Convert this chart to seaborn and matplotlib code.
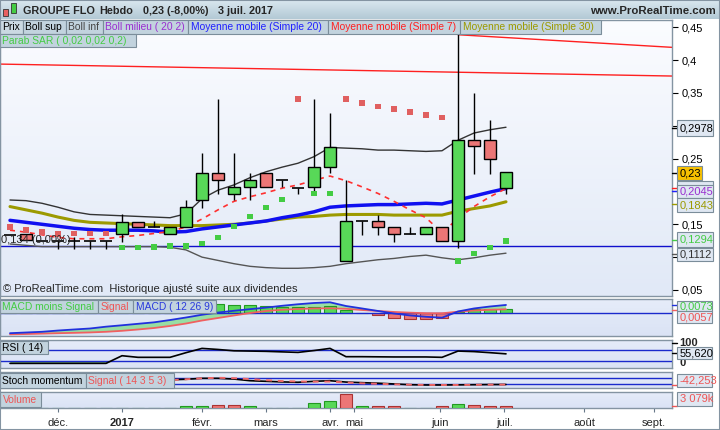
import numpy as np
import seaborn as sns
import matplotlib
matplotlib.use('Agg')
from matplotlib import pyplot as plt
from matplotlib.patches import Rectangle
from matplotlib.lines import Line2D
from matplotlib.colors import LinearSegmentedColormap

# ---- données hebdomadaires (GROUPE FLO) ----
semaines = list(range(32))
ouverture = [0.134, 0.1348, 0.125, 0.125, 0.125, 0.125, 0.125, 0.1348, 0.154, 0.1465, 0.1348, 0.1464,
             0.1866, 0.2277, 0.1957, 0.2064, 0.2277, 0.217, 0.2058, 0.2064, 0.2368, 0.0937, 0.1546, 0.1546,
             0.1455, 0.1348, 0.1348, 0.1455, 0.124, 0.278, 0.278, 0.2058]
haut = [0.134, 0.1348, 0.125, 0.125, 0.130, 0.125, 0.125, 0.1651, 0.154, 0.155, 0.1455, 0.187,
        0.259, 0.341, 0.259, 0.2277, 0.2277, 0.217, 0.2058, 0.341, 0.3195, 0.217, 0.1546, 0.1637,
        0.1455, 0.146, 0.1455, 0.1455, 0.44, 0.35, 0.3088, 0.23]
bas = [0.134, 0.126, 0.125, 0.112, 0.112, 0.112, 0.112, 0.1235, 0.1455, 0.1465, 0.1348, 0.1464,
       0.1753, 0.1957, 0.1866, 0.1866, 0.2064, 0.2064, 0.1957, 0.200, 0.2277, 0.0937, 0.1342, 0.1342,
       0.1235, 0.1348, 0.1348, 0.124, 0.1135, 0.227, 0.227, 0.1957]
cloture = [0.134, 0.126, 0.125, 0.125, 0.125, 0.125, 0.125, 0.154, 0.1455, 0.1465, 0.1455, 0.176,
           0.2277, 0.217, 0.2064, 0.217, 0.2064, 0.217, 0.2058, 0.2368, 0.2682, 0.1546, 0.1546, 0.1455,
           0.1348, 0.1348, 0.1455, 0.124, 0.278, 0.2688, 0.25, 0.23]

boll_sup = [0.187, 0.186, 0.182, 0.176, 0.169, 0.165, 0.164, 0.163, 0.162, 0.161, 0.160, 0.166,
            0.189, 0.202, 0.210, 0.221, 0.230, 0.237, 0.243, 0.253, 0.267, 0.266, 0.265, 0.263,
            0.263, 0.262, 0.261, 0.262, 0.278, 0.289, 0.294, 0.2978]
boll_inf = [0.120, 0.118, 0.116, 0.116, 0.116, 0.116, 0.116, 0.116, 0.116, 0.116, 0.115, 0.111,
            0.100, 0.095, 0.090, 0.086, 0.084, 0.083, 0.083, 0.084, 0.086, 0.090, 0.093, 0.096,
            0.098, 0.101, 0.103, 0.099, 0.096, 0.099, 0.103, 0.106]
mm20 = [0.156, 0.153, 0.150, 0.147, 0.144, 0.142, 0.141, 0.141, 0.141, 0.140, 0.138, 0.139,
        0.143, 0.146, 0.149, 0.152, 0.155, 0.160, 0.164, 0.169, 0.176, 0.178, 0.179, 0.180,
        0.180, 0.181, 0.182, 0.181, 0.187, 0.193, 0.199, 0.2045]
mm7 = [0.141, 0.138, 0.134, 0.130, 0.128, 0.128, 0.128, 0.131, 0.133, 0.136, 0.139, 0.146,
       0.158, 0.172, 0.185, 0.192, 0.198, 0.205, 0.210, 0.217, 0.2235, 0.2164, 0.207, 0.197,
       0.185, 0.172, 0.160, 0.137, 0.159, 0.177, 0.192, 0.2045]
mm30 = [0.177, 0.172, 0.167, 0.161, 0.156, 0.153, 0.152, 0.151, 0.150, 0.149, 0.148, 0.148,
        0.148, 0.149, 0.150, 0.152, 0.155, 0.158, 0.161, 0.162, 0.164, 0.165, 0.165, 0.165,
        0.164, 0.164, 0.164, 0.164, 0.170, 0.174, 0.178, 0.1843]
sar = [0.1459, 0.1413, 0.1383, 0.1353, 0.1357, 0.1357, 0.1357, 0.1144, 0.1144, 0.1155, 0.117, 0.117,
       0.1205, 0.1296, 0.1464, 0.1616, 0.1753, 0.1875, 0.3408, 0.1966, 0.1966, 0.3408, 0.3347, 0.330,
       0.3256, 0.321, 0.3165, 0.3124, 0.094, 0.1052, 0.1144, 0.1246]

# droites tracées à la main + ligne horizontale
droite1_x = [28, 41.375]
droite1_y = [0.4387, 0.4195]
droite2_x = [-0.625, 41.375]
droite2_y = [0.394, 0.3758]
ligne_h = 0.1175

macd = [-0.0284, -0.0274, -0.0264, -0.0246, -0.0231, -0.0217, -0.0191, -0.0171, -0.0150, -0.0129,
        -0.0096, -0.0060, -0.0021, 0.0011, 0.0036, 0.0059, 0.0081, 0.0107, 0.0129, 0.0147, 0.0157,
        0.0104, 0.0069, 0.0033, -0.0003, -0.0031, -0.0050, -0.0063, 0.0026, 0.0069, 0.0097, 0.0119]
signal = [-0.0300, -0.0296, -0.0290, -0.0284, -0.0279, -0.0273, -0.0264, -0.0250, -0.0231, -0.0210,
          -0.0181, -0.0146, -0.0103, -0.0067, -0.0031, 0.0004, 0.0033, 0.0050, 0.0061, 0.0069, 0.0071,
          0.0064, 0.0047, 0.0033, 0.0019, 0.0009, 0.0001, 0.0000, 0.0023, 0.0040, 0.0050, 0.0057]
histo = [0.0016, 0.0022, 0.0026, 0.0038, 0.0048, 0.0056, 0.0073, 0.0079, 0.0081, 0.0081, 0.0085,
         0.0086, 0.0082, 0.0133, 0.0119, 0.0114, 0.0105, 0.0095, 0.0095, 0.0095, 0.0105, 0.0043,
         0.0000, -0.0029, -0.0063, -0.0077, -0.0077, -0.0071, 0.0014, 0.0057, 0.0066, 0.0057]

rsi = [20, 20, 20, 20, 20, 20, 20, 48.6, 42.6, 42.6, 42.6, 60, 76, 72, 67, 66, 65, 63, 61, 68, 76,
       45, 45, 44.5, 44, 44, 44, 42.6, 66, 64, 60, 55.62]
stoch = [-72, -78, -82, -85, -82, -78, -72, -40, -10, 10, 20, 27, 40, 40, 30, 8, 0, -8, -13, 0, 8,
         -10, -18, -25, -35, -45, -49, -49, -47, -45, -43, -42.25]
stoch_sig = [-84, -85, -85, -84, -83, -82, -80, -60, -30, -5, 15, 27, 40, 47, 42, 30, 15, 3, -2, -5,
             -3, -15, -27, -33, -40, -45, -48, -49, -49, -47, -45, -44]
volume = [0, 0, 0, 0, 0, 0, 0, 0, 0, 0, 0, 450, 450, 675, 675, 450, 0, 0, 0, 1050, 1575, 3079,
          340, 340, 340, 0, 0, 340, 830, 600, 450, 450]
vol_sens = [1, 1, 1, 1, 1, 1, 1, 1, 1, 1, 1, 1, 1, -1, -1, 1, 1, 1, 1, 1, 1, -1,
            1, -1, -1, 1, 1, -1, 1, -1, -1, -1]

prix_ticks = [0.05, 0.1, 0.15, 0.2, 0.25, 0.3, 0.35, 0.4, 0.45]
prix_lab = ['0,05', '', '0,15', '', '0,25', '', '0,35', '0,4', '0,45']   # 0,1 / 0,2 / 0,3 cachés par les cadres
mois_pos = [3, 7, 12, 16, 20, 21.5, 26.9, 30.9, 35.9, 40.25]
mois_lab = ['déc.', '2017', 'févr.', 'mars', 'avr.', 'mai', 'juin', 'juil.', 'août', 'sept.']

W, H = 720, 430
VERT, ROUGE = '#58d858', '#ec7676'
BORD = '#8494a2'


def fy(py):
    return 1 - py / H


def fond(ax, haut_c, bas_c):
    cmap = LinearSegmentedColormap.from_list('f', [haut_c, bas_c])
    ax.imshow(np.linspace(0, 1, 64).reshape(-1, 1), cmap=cmap, extent=[0, 1, 0, 1],
              transform=ax.transAxes, aspect='auto', zorder=0, interpolation='bilinear')


def panneau(y0, y1, haut_c='#e6ecf9', bas_c='#dae3f5'):
    ax = fig.add_axes([0, fy(y1), 672 / W, (y1 - y0) / H])
    fond(ax, haut_c, bas_c)
    for s in ax.spines.values():
        s.set_color(BORD)
        s.set_linewidth(1)
    ax.set_xticks([])
    ax.set_yticks([])
    return ax


def etiquette(x0, x1, y0, y1, txt, col, face='#c2d3de', fs=7.4):
    fig.patches.append(Rectangle((x0 / W, fy(y1)), (x1 - x0) / W, (y1 - y0) / H,
                                 transform=fig.transFigure, facecolor=face, edgecolor='#7b8d9a',
                                 lw=0.8, zorder=5))
    if txt:
        fig.text((x0 + 2.5) / W, fy((y0 + y1) / 2 + 0.5), txt, color=col, fontsize=fs,
                 va='center', ha='left', zorder=6)


def trait(x0, x1, py, col):
    fig.add_artist(Line2D([x0 / W, x1 / W], [fy(py), fy(py)], color=col, lw=1, zorder=4))


sns.set_style('white')
plt.rcParams['font.family'] = ['Liberation Sans', 'DejaVu Sans']

fig = plt.figure(figsize=(7.2, 4.3), dpi=100)
fig.patch.set_facecolor('white')
XLIM = (-0.625, 41.375)

# ---- bandeau du haut ----
axh = fig.add_axes([0, fy(19), 1, 19 / H])
fond(axh, '#d9e7ef', '#b3c9d5')
axh.set_xlim(0, 1)
axh.set_ylim(0, 1)
axh.axis('off')
fig.text(23 / W, fy(10.5), 'GROUPE FLO', fontsize=7.8, weight='bold', va='center')
fig.text(99 / W, fy(10.5), 'Hebdo', fontsize=7.8, weight='bold', va='center')
fig.text(143 / W, fy(10.5), '0,23 (-8,00%)', fontsize=7.8, weight='bold', va='center')
fig.text(218 / W, fy(10.5), '3 juil. 2017', fontsize=7.8, weight='bold', va='center')
fig.text(716 / W, fy(10.5), 'www.ProRealTime.com', fontsize=8.2, weight='bold', va='center', ha='right')
for (x0, y0, y1, c) in [(3, 9, 16, '#e86060'), (11, 3, 13, '#44cc44')]:
    fig.patches.append(Rectangle((x0 / W, fy(y1)), 5 / W, (y1 - y0) / H, transform=fig.transFigure,
                                 facecolor=c, edgecolor='#333333', lw=0.6, zorder=5))

# ---- panneau principal ----
ax = panneau(19.5, 296, '#fbfcff', '#e1e9f7')
ax.set_xlim(*XLIM)
ax.set_ylim(0.0408, 0.4619)

sns.lineplot(x=droite1_x, y=droite1_y, ax=ax, color='#ff2020', lw=1, zorder=2)
sns.lineplot(x=droite2_x, y=droite2_y, ax=ax, color='#ff2020', lw=1, zorder=2)
ax.axhline(ligne_h, color='#1010cc', lw=1, zorder=2)
sns.lineplot(x=semaines, y=boll_sup, ax=ax, color='#333333', lw=1, zorder=3)
sns.lineplot(x=semaines, y=boll_inf, ax=ax, color='#555555', lw=1, zorder=3)
sns.lineplot(x=semaines, y=mm30, ax=ax, color='#9c9a00', lw=2.2, zorder=3)
sns.lineplot(x=semaines, y=mm20, ax=ax, color='#1010f0', lw=2.5, zorder=3)
sns.lineplot(x=semaines, y=mm7, ax=ax, color='#ff3030', lw=1.2, zorder=3, dashes=False,
             linestyle=(0, (3, 3)))

for i in semaines:
    o, h, l, c = ouverture[i], haut[i], bas[i], cloture[i]
    ax.vlines(i, l, h, color='black', lw=1, zorder=4)
    if c == o:
        ax.hlines(c, i - 0.375, i + 0.375, color='black', lw=1.2, zorder=5)
    else:
        ax.bar(i, abs(c - o), bottom=min(o, c), width=0.75, color=VERT if c > o else ROUGE,
               edgecolor='black', lw=1, zorder=5)

sar_col = ['#e06060' if s > c else '#44cc44' for s, c in zip(sar, cloture)]
sns.scatterplot(x=semaines, y=sar, ax=ax, marker='s', s=14, color=sar_col, edgecolor='none',
                linewidth=0, zorder=6)

ax.yaxis.tick_right()
ax.set_yticks(prix_ticks)
ax.set_yticklabels(prix_lab)
ax.tick_params(axis='y', right=True, length=4, width=0.8, colors='black', labelsize=8, pad=3)
ax.set_xlabel('')
ax.set_ylabel('')

fig.text(3 / W, fy(289.5), '© ProRealTime.com  Historique ajusté suite aux dividendes', fontsize=8,
         va='center', zorder=6)
fig.text(1 / W, fy(240), '0,134 (0,00%)', fontsize=8, va='center', zorder=6)

# légendes du panneau principal
etiquette(0, 22.7, 20, 34, 'Prix', 'black', face='#cbd9e2')
etiquette(22.7, 66, 20, 34, 'Boll sup', 'black')
etiquette(66, 102.7, 20, 34, 'Boll inf', '#444444')
etiquette(102.7, 188.3, 20, 34, 'Boll milieu ( 20 2)', '#9a2fd0')
etiquette(188.3, 328.3, 20, 34, 'Moyenne mobile (Simple 20)', '#2020ff')
etiquette(328.3, 460, 20, 34, 'Moyenne mobile (Simple 7)', '#ff2020')
etiquette(460, 600.7, 20, 34, 'Moyenne mobile (Simple 30)', '#9c9a00')
etiquette(0, 136, 34, 47, 'Parab SAR ( 0,02 0,02 0,2)', '#44cc44')

# valeurs à droite
VAL = '#dfe7f2'
trait(672, 677, 127.7, 'black')
etiquette(677, 713, 120.3, 135.7, '0,2978', 'black', face=VAL, fs=8)
trait(672, 677, 173, 'black')
etiquette(677, 702, 165.7, 180, '0,23', 'black', face='#f7c000', fs=8)
trait(672, 677, 188.5, '#ff2020')
trait(672, 677, 190.5, '#2020ff')
etiquette(677, 713, 181.5, 195, '', 'black', face=VAL, fs=8)
etiquette(677, 713, 185, 198, '0,2045', '#9a2fd0', face=VAL, fs=8)
trait(672, 677, 204.3, '#9c9a00')
etiquette(677, 713, 198.3, 212.3, '0,1843', '#9c9a00', face=VAL, fs=8)
trait(672, 677, 240, '#44cc44')
etiquette(677, 713, 232.3, 246.7, '0,1294', '#44cc44', face=VAL, fs=8)
trait(672, 677, 253.5, '#555555')
etiquette(677, 713, 247.7, 260.7, '0,1112', '#333333', face=VAL, fs=8)

# ---- MACD ----
axm = panneau(299, 336)
axm.set_xlim(*XLIM)
axm.set_ylim(-0.0324, 0.0204)
mc = np.array(macd)
sg = np.array(signal)
axm.fill_between(semaines, mc, sg, where=mc >= sg, interpolate=True, color='#5fd85f', alpha=0.55,
                 lw=0, zorder=2)
axm.fill_between(semaines, mc, sg, where=mc < sg, interpolate=True, color='#ee8080', alpha=0.55,
                 lw=0, zorder=2)
axm.bar(semaines, histo, width=0.8, color=[VERT if v >= 0 else ROUGE for v in histo],
        edgecolor=['#229922' if v >= 0 else '#aa3333' for v in histo], lw=0.8, zorder=3)
axm.axhline(0, color='#1a2acc', lw=1, zorder=4)
sns.lineplot(x=semaines, y=signal, ax=axm, color='#f06060', lw=1.3, zorder=4)
sns.lineplot(x=semaines, y=macd, ax=axm, color='#2030dd', lw=1.3, zorder=5)
axm.set_xticks([])
axm.set_yticks([])
axm.set_xlabel('')
axm.set_ylabel('')
etiquette(0, 98, 299.5, 313.3, 'MACD moins Signal', '#44cc44')
etiquette(98, 133, 299.5, 313.3, 'Signal', '#ee5555')
etiquette(133, 216, 299.5, 313.3, 'MACD ( 12 26 9)', '#2a3adc')
trait(672, 677, 305, '#2030dd')
etiquette(677, 712, 300.5, 310.7, '0,0073', '#44cc44', face=VAL, fs=8)
trait(672, 677, 310, '#f06060')
etiquette(677, 712, 310.7, 323.3, '0,0057', '#ee5555', face=VAL, fs=8)

# ---- RSI ----
axr = panneau(340, 368)
axr.set_xlim(*XLIM)
axr.set_ylim(2.7, 107.4)
r = np.array(rsi)
axr.fill_between(semaines, r, 30, where=r < 30, interpolate=True, color='#5fbf5f', alpha=0.7, lw=0,
                 zorder=2)
axr.axhline(70, color='#1a2acc', lw=1, zorder=3)
axr.axhline(30, color='#1a2acc', lw=1, zorder=3)
sns.lineplot(x=semaines, y=rsi, ax=axr, color='black', lw=1.2, zorder=4)
axr.set_xticks([])
axr.set_yticks([])
axr.set_xlabel('')
axr.set_ylabel('')
etiquette(0, 48, 340.5, 354, 'RSI ( 14)', 'black')
fig.text(679 / W, fy(342.5), '100', fontsize=8, weight='bold', va='center')
fig.text(679 / W, fy(363), '0', fontsize=8, weight='bold', va='center')
trait(672, 677, 343, 'black')
trait(672, 677, 353, 'black')
etiquette(677, 712, 346.7, 359, '55,620', 'black', face=VAL, fs=8)

# ---- Stoch momentum ----
axs = panneau(372, 388)
axs.set_xlim(*XLIM)
axs.set_ylim(-89, 124)
axs.axhline(40, color='#1a2acc', lw=1, zorder=2)
axs.axhline(-40, color='#1a2acc', lw=1, zorder=2)
sns.lineplot(x=semaines, y=stoch, ax=axs, color='black', lw=1.2, zorder=3)
sns.lineplot(x=semaines, y=stoch_sig, ax=axs, color='#ee6666', lw=1.4, zorder=4, dashes=False,
             linestyle=(0, (3, 3)))
axs.set_xticks([])
axs.set_yticks([])
axs.set_xlabel('')
axs.set_ylabel('')
etiquette(0, 86, 372.7, 388, 'Stoch momentum', 'black')
etiquette(86, 174, 372.7, 388, 'Signal ( 14 3 5 3)', '#ee5555')
trait(672, 677, 384.5, '#ee5555')
etiquette(677, 712, 374, 386.7, '-42,253', '#ee5555', face=VAL, fs=8)

# ---- Volume ----
axv = panneau(392, 408)
axv.set_xlim(*XLIM)
axv.set_ylim(0, 3600)
axv.bar(semaines, volume, width=0.8, color=[VERT if s > 0 else ROUGE for s in vol_sens],
        edgecolor=['#229922' if s > 0 else '#aa3333' for s in vol_sens], lw=0.8, zorder=3)
axv.set_yticks([])
axv.set_xticks(mois_pos)
axv.set_xticklabels(mois_lab)
axv.get_xticklabels()[1].set_fontweight('bold')
axv.tick_params(axis='x', bottom=True, length=3, width=0.8, color='#667788', labelsize=8, pad=4)
axv.set_xlabel('')
axv.set_ylabel('')
etiquette(0, 41, 392.3, 407, 'Volume', '#ee5555')
trait(672, 677, 406, '#ee5555')
etiquette(677, 712, 392.3, 405.7, '3 079k', '#ee5555', face=VAL, fs=8)

# cadre général
fig.patches.append(Rectangle((0, 0), 1, 1, transform=fig.transFigure, fill=False,
                             edgecolor='#8494a2', lw=1.5, zorder=10))

fig.savefig('out.png', dpi=100)
